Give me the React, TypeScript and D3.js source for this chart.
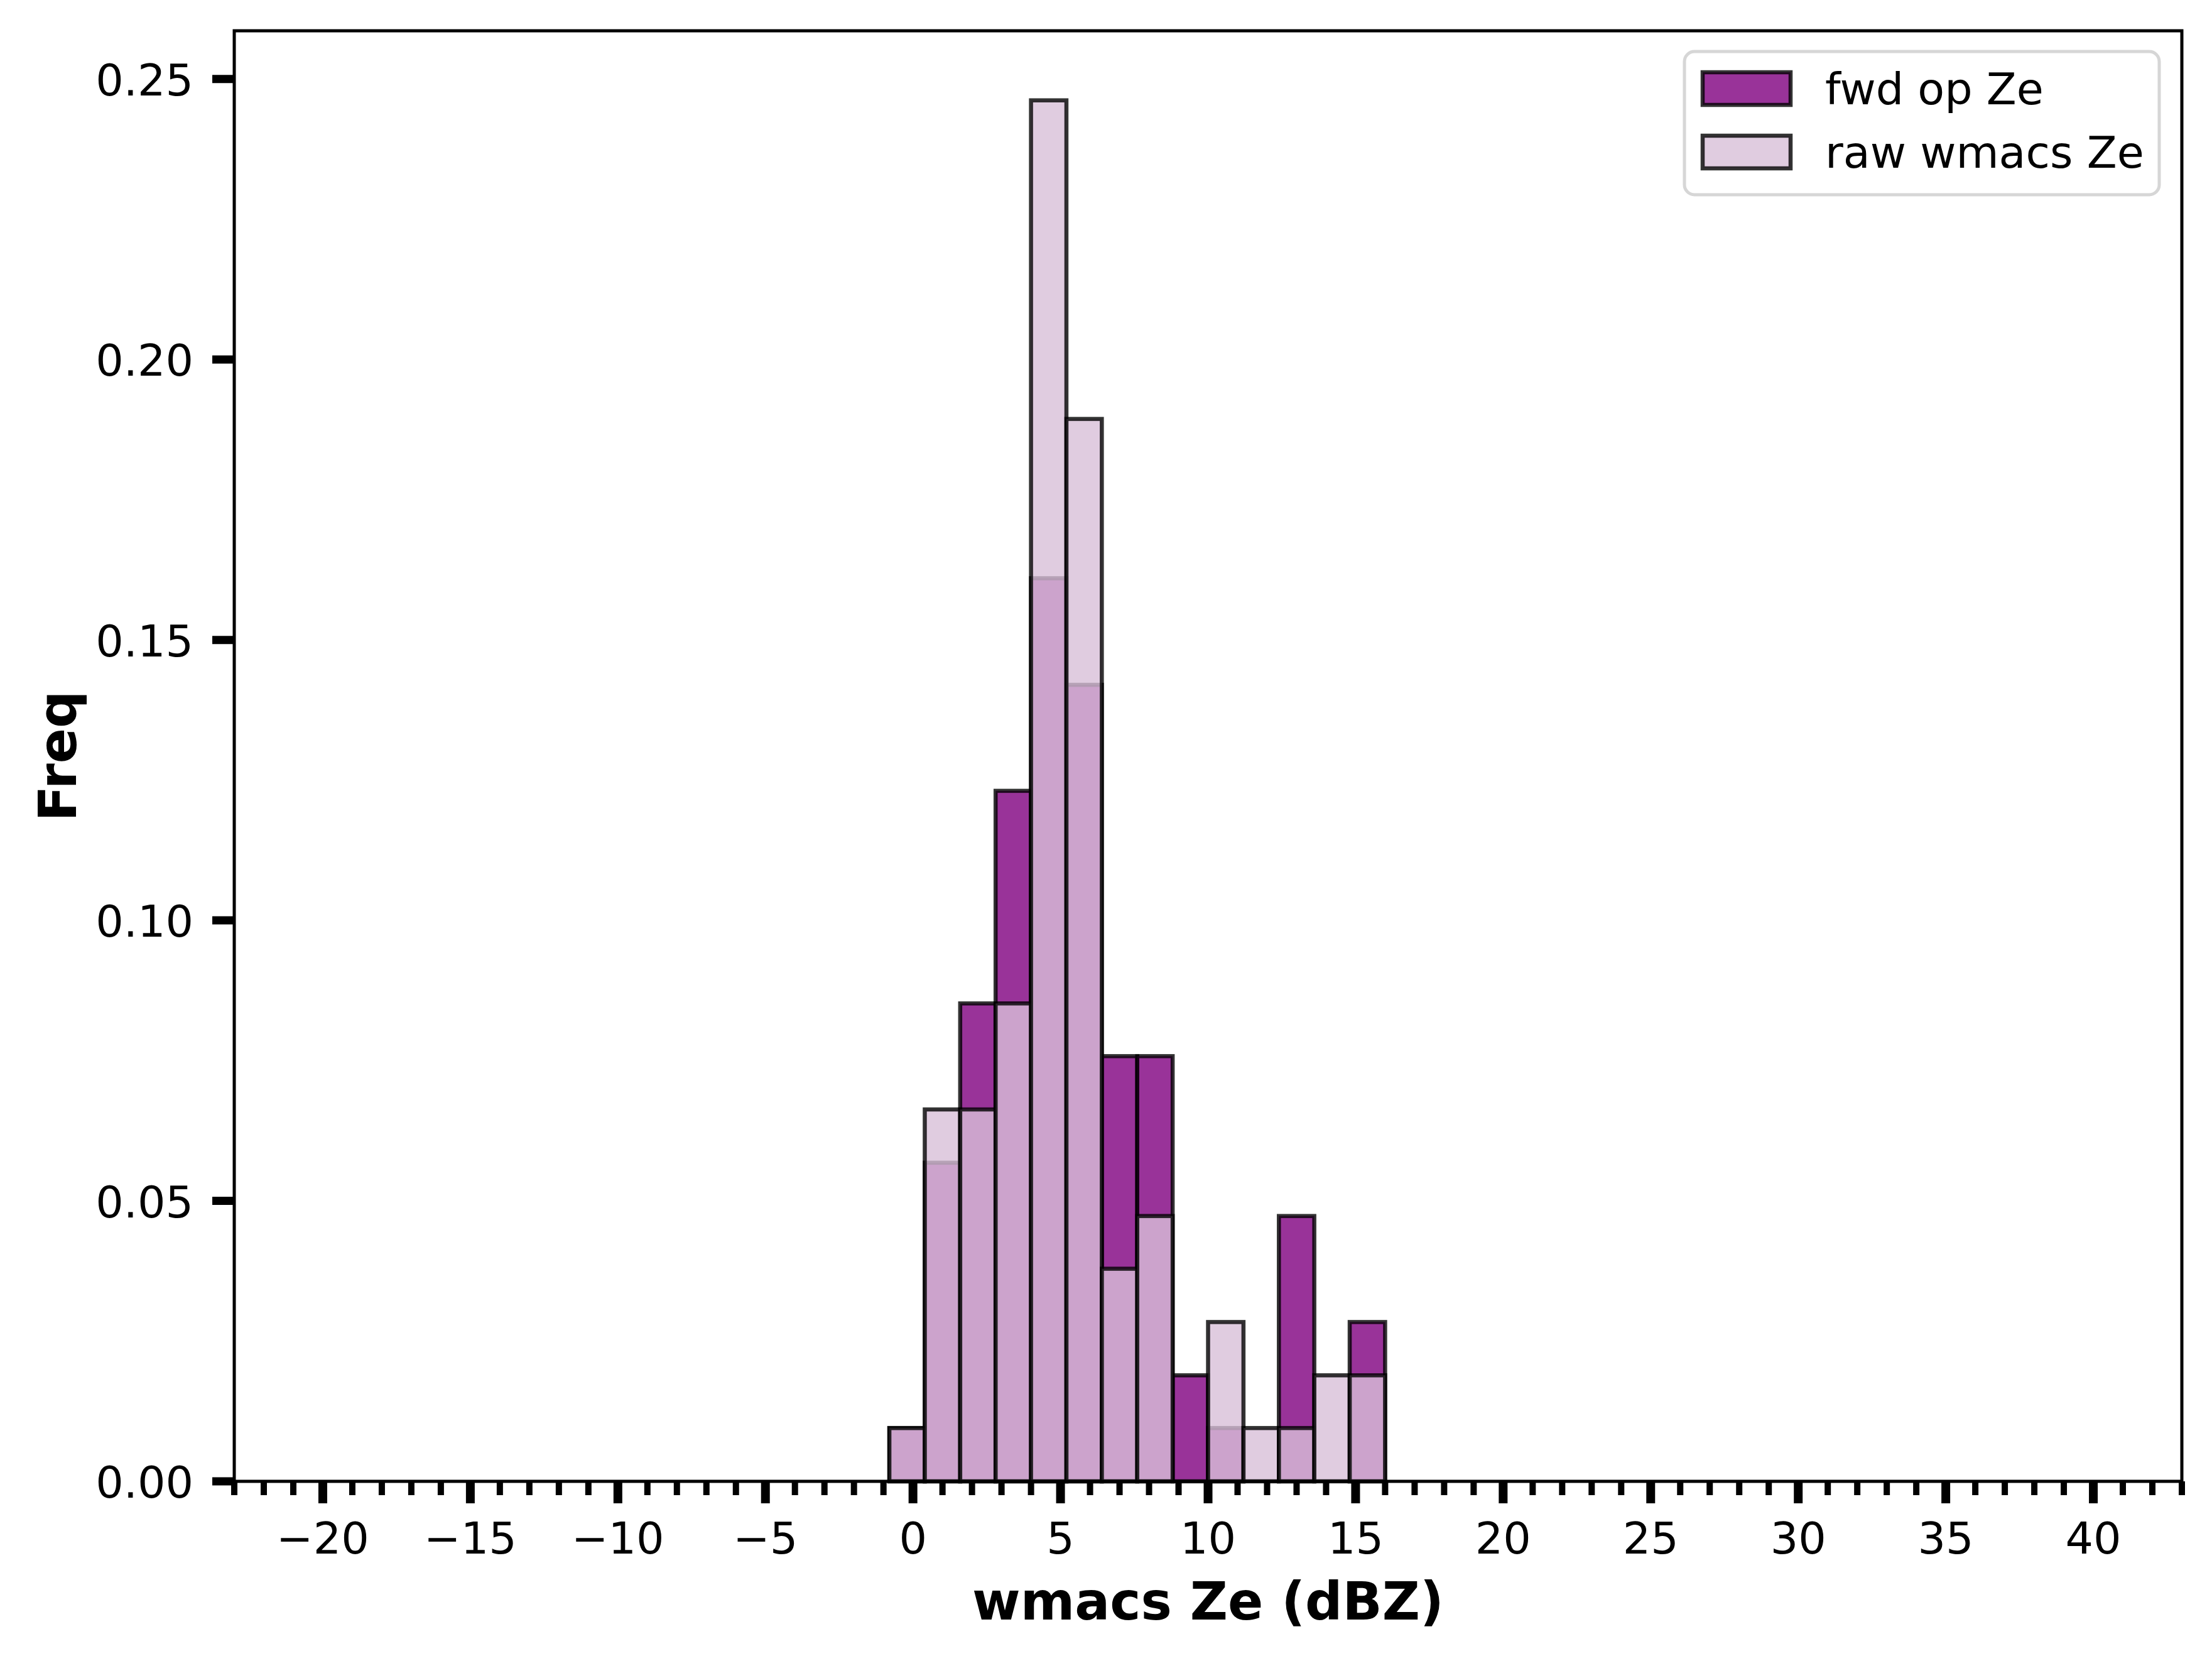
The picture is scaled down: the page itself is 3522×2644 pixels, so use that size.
import React, { useEffect } from "react";
import * as d3 from "d3";

const binEdges = [-0.8, 0.4, 1.6, 2.8, 4.0, 5.2, 6.4, 7.6, 8.8, 10.0, 11.2, 12.4, 13.6, 14.8, 16.0];
const fwdValues = [0.0095, 0.0568, 0.0852, 0.1231, 0.161, 0.142, 0.0758, 0.0758, 0.0189, 0.0095, 0, 0.0473, 0, 0.0284];
const rawValues = [0.0095, 0.0663, 0.0663, 0.0852, 0.2462, 0.1894, 0.0379, 0.0473, 0, 0.0284, 0.0095, 0.0095, 0.0189, 0.0189];
const xMajorTicks = [-20, -15, -10, -5, 0, 5, 10, 15, 20, 25, 30, 35, 40];
const xMinorTicks = d3.range(-23, 44, 1);
const yTicks = [0, 0.05, 0.1, 0.15, 0.2, 0.25];
const seriesNames = ["fwd op Ze", "raw wmacs Ze"];
const seriesColors = ["purple", "thistle"];
const xDomain = [-23, 43];
const yDomain = [0, 0.2586];
const xLabel = "wmacs Ze (dBZ)";
const yLabel = "Freq";

const W = 3522;
const H = 2644;
const left = 373;
const right = 3474;
const top = 49;
const bottom = 2358;
const FONT = "DejaVu Sans";

export default function App() {
  useEffect(() => {
    document.body.style.margin = "0";
  }, []);
  const x = d3.scaleLinear().domain(xDomain).range([left, right]);
  const y = d3.scaleLinear().domain(yDomain).range([bottom, top]);
  const series = [fwdValues, rawValues];

  return (
    <div style={{ position: "absolute", left: 0, top: 0 }}>
      <svg width={W} height={H} viewBox={`0 0 ${W} ${H}`} style={{ display: "block", background: "white" }}>
        <rect x={0} y={0} width={W} height={H} fill="white" />
        {series.map((vals, si) => (
          <g key={si}>
            {vals.map((v, i) =>
              v > 0 ? (
                <rect
                  key={i}
                  x={x(binEdges[i])}
                  y={y(v)}
                  width={x(binEdges[i + 1]) - x(binEdges[i])}
                  height={y(0) - y(v)}
                  fill={seriesColors[si]}
                  fillOpacity={0.8}
                  stroke="black"
                  strokeOpacity={0.8}
                  strokeWidth={6.5}
                />
              ) : null
            )}
          </g>
        ))}
        <rect x={left} y={top} width={right - left} height={bottom - top} fill="none" stroke="black" strokeWidth={5} />
        {xMinorTicks.map((t) => (
          <line key={"mn" + t} x1={x(t)} x2={x(t)} y1={bottom} y2={bottom + 22} stroke="black" strokeWidth={10} />
        ))}
        {xMajorTicks.map((t) => (
          <g key={"mj" + t}>
            <line x1={x(t)} x2={x(t)} y1={bottom} y2={bottom + 35} stroke="black" strokeWidth={14} />
            <text x={x(t)} y={2473} textAnchor="middle" fontFamily={FONT} fontSize={70} fill="black">
              {t < 0 ? "\u2212" + Math.abs(t) : String(t)}
            </text>
          </g>
        ))}
        {yTicks.map((t) => (
          <g key={"y" + t}>
            <line x1={left - 35} x2={left} y1={y(t)} y2={y(t)} stroke="black" strokeWidth={13} />
            <text x={308} y={y(t) + 26} textAnchor="end" fontFamily={FONT} fontSize={70} fill="black">
              {d3.format(".2f")(t)}
            </text>
          </g>
        ))}
        <text x={(left + right) / 2} y={2578} textAnchor="middle" fontFamily={FONT} fontWeight="bold" fontSize={83} fill="black">
          {xLabel}
        </text>
        <text
          transform={`translate(121, ${(top + bottom) / 2}) rotate(-90)`}
          textAnchor="middle"
          fontFamily={FONT}
          fontWeight="bold"
          fontSize={83}
          fill="black"
        >
          {yLabel}
        </text>
        <rect x={2682} y={82} width={756} height={228} rx={16} ry={16} fill="white" fillOpacity={0.8} stroke="#d6d6d6" strokeWidth={5} />
        {seriesNames.map((name, i) => {
          const cy = 141 + i * 101;
          return (
            <g key={name}>
              <rect
                x={2711}
                y={cy - 26}
                width={140}
                height={52}
                fill={seriesColors[i]}
                fillOpacity={0.8}
                stroke="black"
                strokeOpacity={0.8}
                strokeWidth={6.5}
              />
              <text x={2906} y={cy + 25} fontFamily={FONT} fontSize={70} fill="black">
                {name}
              </text>
            </g>
          );
        })}
      </svg>
    </div>
  );
}
